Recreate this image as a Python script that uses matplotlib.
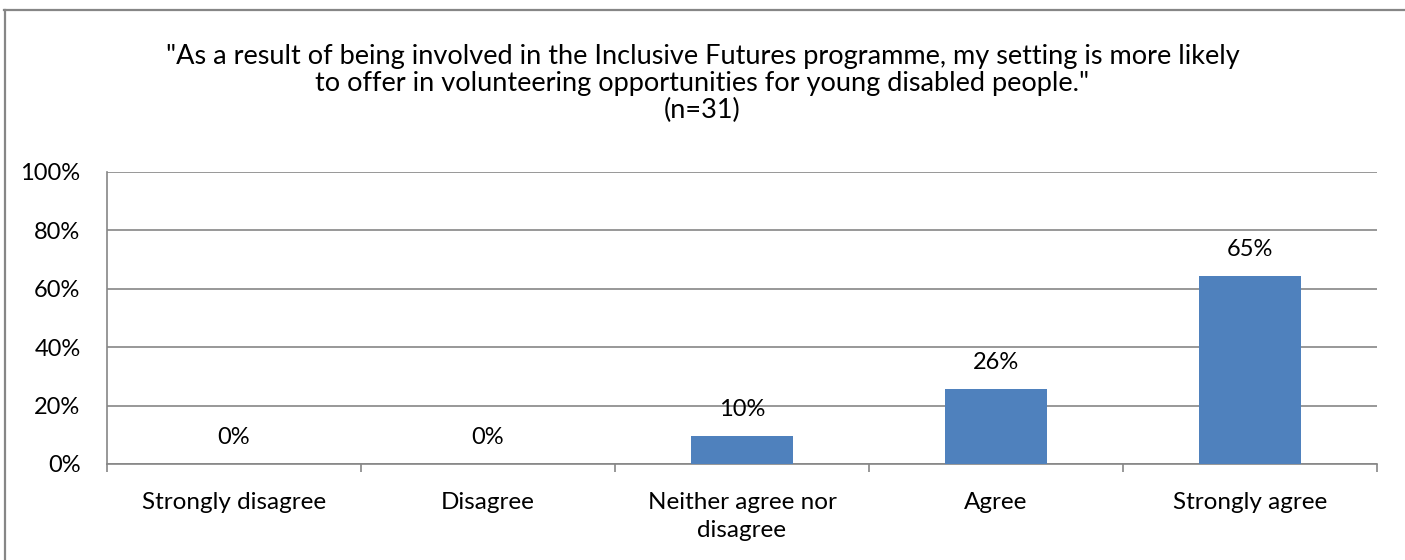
from matplotlib import pyplot as plt
from matplotlib.lines import Line2D
import numpy as np

# Survey responses (n=31)
categories = ["Strongly disagree", "Disagree", "Neither agree nor\ndisagree",
              "Agree", "Strongly agree"]
counts = [0, 0, 3, 8, 20]
n_total = 31
y_ticks = [0, 20, 40, 60, 80, 100]
title_lines = [
    '"As a result of being involved in the Inclusive Futures programme, my setting is more likely',
    'to offer in volunteering opportunities for young disabled people."',
    '(n=31)',
]

percent = np.array(counts) / n_total * 100

plt.rcParams['font.family'] = ['Lato', 'DejaVu Sans']
bar_color = '#4F81BD'
grid_color = '#868686'
label_size = 17
title_size = 19.5

W, H = 1405, 560
fig = plt.figure(figsize=(W / 100, H / 100), dpi=100)
ax = fig.add_axes([107 / W, 1 - 464 / H, 1270 / W, 292 / H])

# Chart frame: only the top and left edges fall inside the image
fig.add_artist(Line2D([4 / W, 1], [1 - 10 / H, 1 - 10 / H], transform=fig.transFigure,
                      color=grid_color, linewidth=1.6))
fig.add_artist(Line2D([5 / W, 5 / W], [0, 1 - 10 / H], transform=fig.transFigure,
                      color=grid_color, linewidth=1.6))

# Title, three centred lines (baselines)
for line, base in zip(title_lines, [64, 91, 118]):
    fig.text(0.5, 1 - base / H, line, ha='center', va='baseline', fontsize=title_size)

# Bars
x = np.arange(len(categories))
ax.bar(x, percent, width=0.4, color=bar_color, zorder=3)

# Value labels above each bar
for xi, p in zip(x, percent):
    ax.annotate(f"{p:.0f}%", (xi, p), xytext=(0, 19), textcoords='offset points',
                ha='center', va='center', fontsize=label_size)

# Axes limits and ticks
ax.set_xlim(-0.5, len(categories) - 0.5)
ax.set_ylim(0, 100)
ax.set_yticks(y_ticks)
ax.set_yticklabels([f"{t}%" for t in y_ticks], fontsize=label_size)
ax.tick_params(axis='y', length=0, pad=19)

# Category labels in the middle, tick marks between categories
ax.set_xticks(x)
ax.set_xticklabels(categories, fontsize=17.5, linespacing=1.42)
ax.tick_params(axis='x', which='major', length=0, pad=20)
ax.set_xticks(np.arange(-0.5, len(categories)), minor=True)
ax.tick_params(axis='x', which='minor', length=6, width=1.2, color=grid_color,
               direction='out')

# Gridlines
ax.yaxis.grid(True, color=grid_color, linewidth=1.2, zorder=0)
ax.set_axisbelow(True)

for side in ['top', 'right']:
    ax.spines[side].set_visible(False)
for side in ['left', 'bottom']:
    ax.spines[side].set_color(grid_color)
    ax.spines[side].set_linewidth(1.2)

plt.savefig('out.png', dpi=100)
